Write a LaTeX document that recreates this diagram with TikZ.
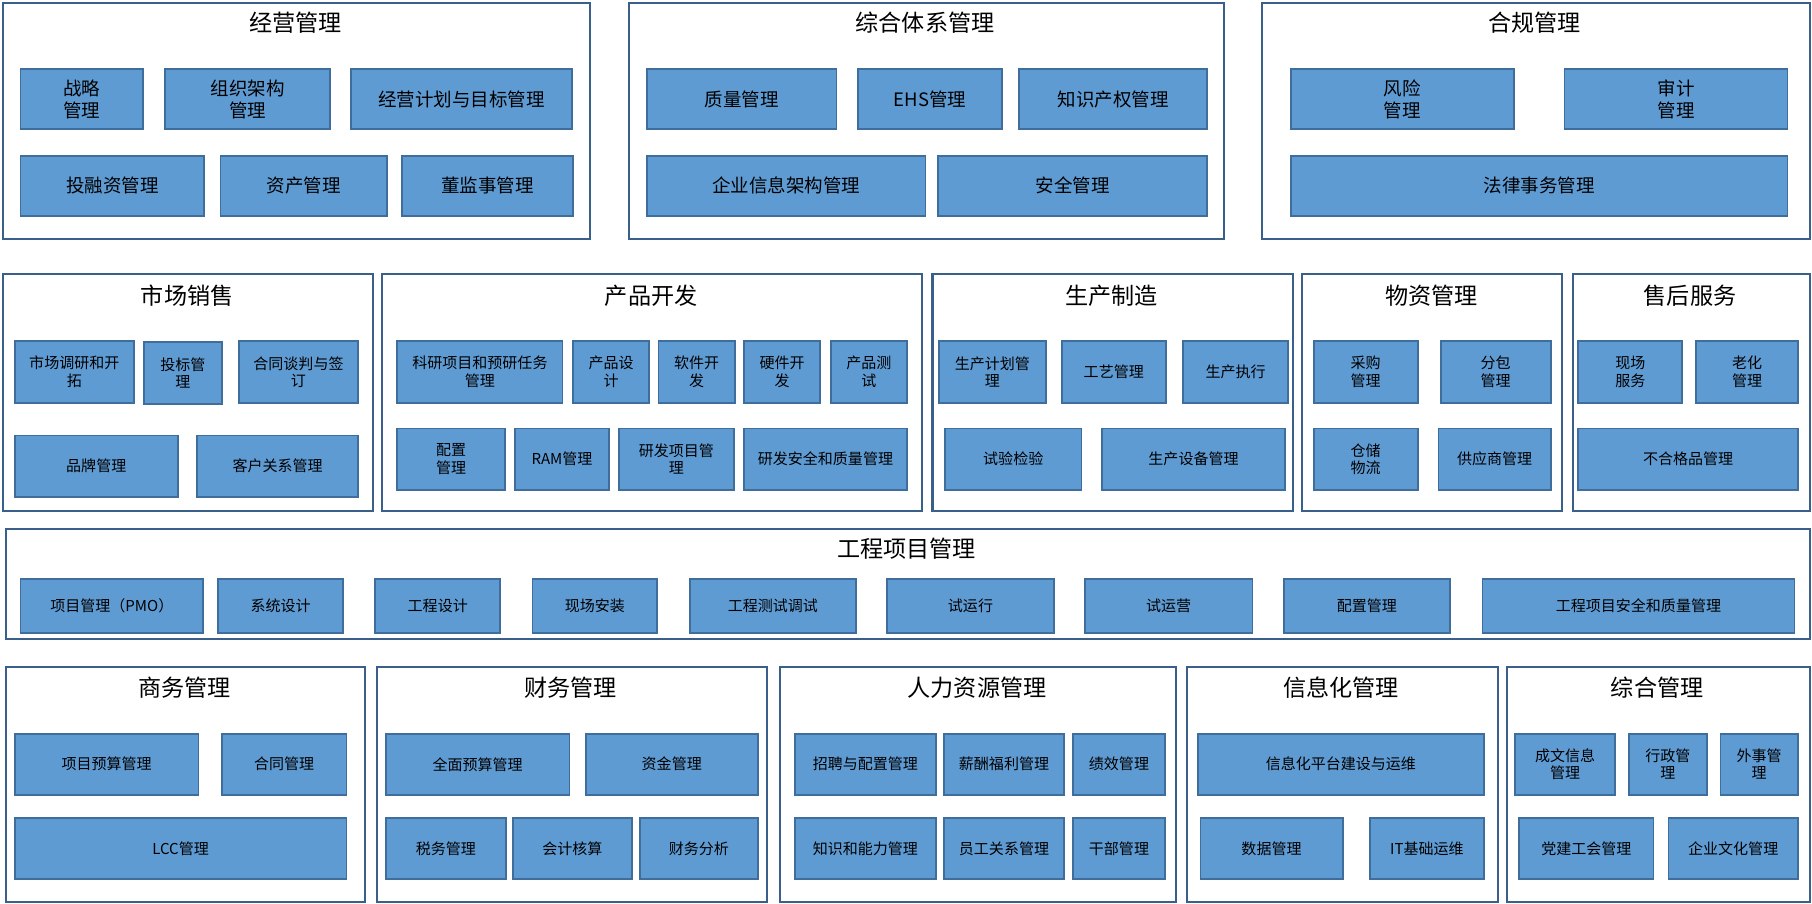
\documentclass[tikz,border=0pt]{standalone}
\usepackage{fontspec}
\setmainfont{Noto Sans CJK SC}
\begin{document}
\begin{tikzpicture}[x=0.5pt,y=-0.5pt,
  grp/.style={draw=black!45!blue!60!gray,line width=0.9pt,fill=white,inner sep=0pt},
  box/.style={draw=blue!35!black!75,line width=0.8pt,fill=blue!30!cyan!40!gray!80,inner sep=1pt,align=center,font=\fontsize{6.5}{7.5}\selectfont,fill opacity=1},
  big/.style={font=\fontsize{8}{9.5}\selectfont},
  ttl/.style={font=\fontsize{10}{12}\selectfont,inner sep=0pt}]
\definecolor{bfill}{HTML}{5F9BD3}
\definecolor{bdraw}{HTML}{3F6E9C}
\definecolor{gdraw}{HTML}{3A5F8A}
\tikzset{box/.append style={fill=bfill,draw=bdraw},grp/.append style={draw=gdraw}}
\useasboundingbox (0,0) rectangle (1568,782);
\newcommand\bx[7][]{\node[box,#1,anchor=north west,minimum width={(#4-#2)*0.5pt},minimum height={(#5-#3)*0.5pt}] (#6) at (#2,#3) {#7};}
\newcommand\gp[7]{\node[grp,anchor=north west,minimum width={(#3-#1)*0.5pt},minimum height={(#4-#2)*0.5pt}] (#5) at (#1,#2) {};
  \node[ttl] (#5t) at ({(#1+#3)/2},#6) {#7};}
% top row
\gp{2}{2}{510}{206}{g1}{20}{经营管理}
\bx[big]{17}{59}{123}{111}{a1}{战略\\管理}
\bx[big]{142}{59}{285}{111}{a2}{组织架构\\管理}
\bx[big]{303}{59}{494}{111}{a3}{经营计划与目标管理}
\bx[big]{17}{134}{176}{186}{a4}{投融资管理}
\bx[big]{190}{134}{334}{186}{a5}{资产管理}
\bx[big]{347}{134}{495}{186}{a6}{董监事管理}
\gp{543}{2}{1058}{206}{g2}{20}{综合体系管理}
\bx[big]{559}{59}{723}{111}{b1}{质量管理}
\bx[big]{742}{59}{866}{111}{b2}{EHS管理}
\bx[big]{881}{59}{1044}{111}{b3}{知识产权管理}
\bx[big]{559}{134}{800}{186}{b4}{企业信息架构管理}
\bx[big]{811}{134}{1044}{186}{b5}{安全管理}
\gp{1091}{2}{1565}{206}{g3}{20}{合规管理}
\bx[big]{1116}{59}{1309}{111}{c1}{风险\\管理}
\bx[big]{1353}{59}{1546}{111}{c2}{审计\\管理}
\bx[big]{1116}{134}{1546}{186}{c3}{法律事务管理}
% second row
\gp{2}{236}{322}{441}{g4}{256}{市场销售}
\bx{12}{294}{115}{348}{d1}{市场调研和开\\拓}
\bx{124}{295}{191}{349}{d2}{投标管\\理}
\bx{206}{294}{309}{348}{d3}{合同谈判与签\\订}
\bx{12}{376}{153}{429}{d4}{品牌管理}
\bx{170}{376}{309}{429}{d5}{客户关系管理}
\gp{330}{236}{797}{441}{g5}{256}{产品开发}
\bx{343}{294}{486}{348}{e1}{科研项目和预研任务\\管理}
\bx{495}{294}{561}{348}{e2}{产品设\\计}
\bx{569}{294}{635}{348}{e3}{软件开\\发}
\bx{643}{294}{709}{348}{e4}{硬件开\\发}
\bx{718}{294}{784}{348}{e5}{产品测\\试}
\bx{343}{370}{436}{423}{e6}{配置\\管理}
\bx{445}{370}{526}{423}{e7}{RAM管理}
\bx{535}{370}{634}{423}{e8}{研发项目管\\理}
\bx{643}{370}{784}{423}{e9}{研发安全和质量管理}
\gp{806}{236}{1118}{441}{g6}{256}{生产制造}
\bx{812}{294}{904}{348}{f1}{生产计划管\\理}
\bx{918}{294}{1008}{348}{f2}{工艺管理}
\bx{1023}{294}{1114}{348}{f3}{生产执行}
\bx{817}{370}{935}{423}{f4}{试验检验}
\bx{953}{370}{1111}{423}{f5}{生产设备管理}
\gp{1126}{236}{1351}{441}{g7}{256}{物资管理}
\bx{1136}{294}{1226}{348}{h1}{采购\\管理}
\bx{1246}{294}{1341}{348}{h2}{分包\\管理}
\bx{1136}{370}{1226}{423}{h3}{仓储\\物流}
\bx{1244}{370}{1341}{423}{h4}{供应商管理}
\gp{1360}{236}{1565}{441}{g8}{256}{售后服务}
\bx{1365}{294}{1455}{348}{i1}{现场\\服务}
\bx{1467}{294}{1555}{348}{i2}{老化\\管理}
\bx{1365}{370}{1555}{423}{i3}{不合格品管理}
% third row
\gp{4}{457}{1565}{552}{g9}{475}{工程项目管理}
\bx{17}{500}{175}{547}{j1}{项目管理（PMO）}
\bx{188}{500}{296}{547}{j2}{系统设计}
\bx{324}{500}{432}{547}{j3}{工程设计}
\bx{460}{500}{568}{547}{j4}{现场安装}
\bx{596}{500}{740}{547}{j5}{工程测试调试}
\bx{767}{500}{911}{547}{j6}{试运行}
\bx{938}{500}{1083}{547}{j7}{试运营}
\bx{1110}{500}{1254}{547}{j8}{配置管理}
\bx{1282}{500}{1552}{547}{j9}{工程项目安全和质量管理}
% bottom row
\gp{4}{576}{315}{780}{g10}{595}{商务管理}
\bx{12}{634}{171}{687}{k1}{项目预算管理}
\bx{191}{634}{299}{687}{k2}{合同管理}
\bx{12}{707}{299}{760}{k3}{LCC管理}
\gp{325}{576}{663}{780}{g11}{595}{财务管理}
\bx{333}{634}{492}{687}{l1}{全面预算管理}
\bx{506}{634}{655}{687}{l2}{资金管理}
\bx{333}{707}{437}{760}{l3}{税务管理}
\bx{443}{707}{546}{760}{l4}{会计核算}
\bx{553}{707}{655}{760}{l5}{财务分析}
\gp{674}{576}{1017}{780}{g12}{595}{人力资源管理}
\bx{687}{634}{809}{687}{m1}{招聘与配置管理}
\bx{816}{634}{920}{687}{m2}{薪酬福利管理}
\bx{928}{634}{1007}{687}{m3}{绩效管理}
\bx{687}{707}{809}{760}{m4}{知识和能力管理}
\bx{816}{707}{920}{760}{m5}{员工关系管理}
\bx{928}{707}{1007}{760}{m6}{干部管理}
\gp{1026}{576}{1295}{780}{g13}{595}{信息化管理}
\bx{1036}{634}{1283}{687}{n1}{信息化平台建设与运维}
\bx{1038}{707}{1161}{760}{n2}{数据管理}
\bx{1185}{707}{1283}{760}{n3}{IT基础运维}
\gp{1303}{576}{1565}{780}{g14}{595}{综合管理}
\bx{1310}{634}{1397}{687}{o1}{成文信息\\管理}
\bx{1409}{634}{1476}{687}{o2}{行政管\\理}
\bx{1488}{634}{1555}{687}{o3}{外事管\\理}
\bx{1314}{707}{1430}{760}{o4}{党建工会管理}
\bx{1443}{707}{1555}{760}{o5}{企业文化管理}
\end{tikzpicture}
\end{document}
